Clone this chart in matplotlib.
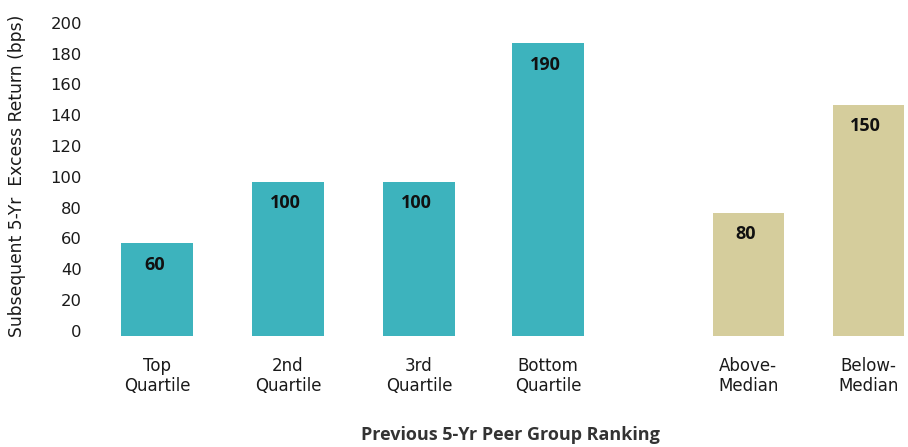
import matplotlib
matplotlib.use("Agg")
import matplotlib.pyplot as plt
import matplotlib.transforms as mtransforms

# chart values
categories = ["Top\nQuartile", "2nd\nQuartile", "3rd\nQuartile", "Bottom\nQuartile",
              "Above-\nMedian", "Below-\nMedian"]
excess_bps = [60, 100, 100, 190, 80, 150]
groups = ["quartile", "quartile", "quartile", "quartile", "median", "median"]

# layout (bar centres in category units, the median pair set apart)
xpos = [0, 1.004, 2.008, 2.996, 4.53, 5.45]
colors = {"quartile": "#3DB3BD", "median": "#D5CD9C"}
bold_font = ["Open Sans", "DejaVu Sans"]

W, H = 908, 447
fig = plt.figure(figsize=(W / 100, H / 100), dpi=100)
left, right, bottom, top = 95, 908, 335.7, 27.7
ax = fig.add_axes([left / W, (H - bottom) / H, (right - left) / W, (bottom - top) / H])

unit = 130.5
ax.set_xlim((left - 157) / unit, (right - 157) / unit)
ax.set_ylim(0, 200)

ax.bar(xpos, excess_bps, width=0.545, color=[colors[g] for g in groups])

for x, v in zip(xpos, excess_bps):
    ax.annotate(str(v), (x - 0.02, v), xytext=(0, -15.5), textcoords="offset points",
                ha="center", va="center", fontsize=13, fontweight="bold",
                family=bold_font, color="#111111")

for s in ax.spines.values():
    s.set_visible(False)

ax.set_yticks(range(0, 201, 20))
ax.tick_params(axis="y", length=0, pad=9.5, labelsize=11.8, labelcolor="#1a1a1a")
ax.tick_params(axis="x", length=0, pad=15, labelsize=12, labelcolor="#1a1a1a")
ax.set_xticks(xpos)
ax.set_xticklabels(categories, linespacing=1.2)

# tick numbers sit a little above their gridline positions
shift = mtransforms.ScaledTranslation(0, 5 / 100, fig.dpi_scale_trans)
for lbl in ax.get_yticklabels():
    lbl.set_transform(lbl.get_transform() + shift)

fig.text(17 / W, (H - 176) / H, "Subsequent 5-Yr  Excess Return (bps)", rotation=90,
         ha="center", va="center", fontsize=12.3, color="#1a1a1a")
fig.text(510 / W, (H - 435) / H, "Previous 5-Yr Peer Group Ranking",
         ha="center", va="center", fontsize=13, fontweight="bold",
         family=bold_font, color="#333333")

fig.savefig("out.png", dpi=100)
